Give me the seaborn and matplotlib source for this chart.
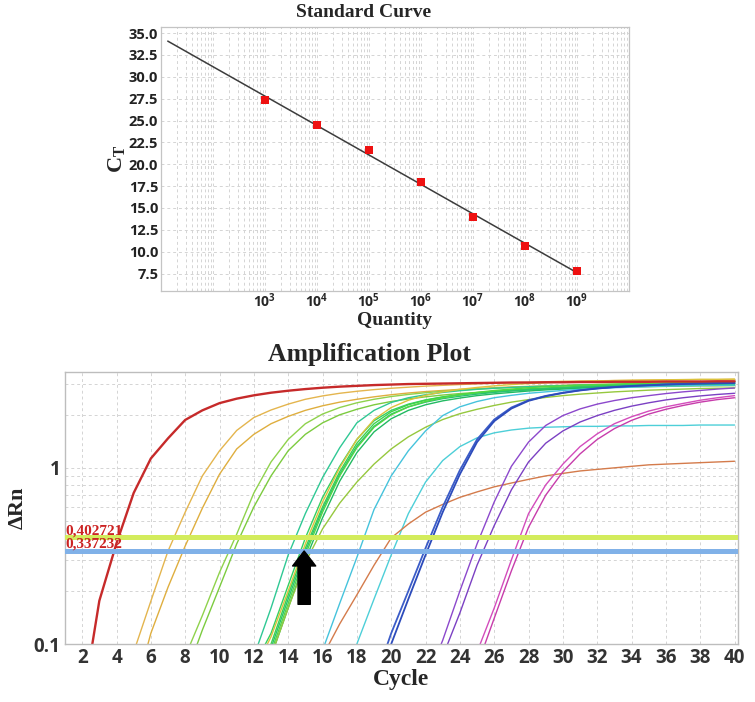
import numpy as np
import pandas as pd
import matplotlib
matplotlib.use('Agg')
import matplotlib.pyplot as plt
import seaborn as sns
from matplotlib.ticker import LogLocator, NullFormatter, FixedLocator

# standard curve
quantity = [1e3, 1e4, 1e5, 1e6, 1e7, 1e8, 1e9]
ct_values = [27.4, 24.5, 21.6, 17.95, 14.0, 10.65, 7.75]
fit_range = [10 ** 1.13, 1e9]
ct_ticks = [7.5, 10.0, 12.5, 15.0, 17.5, 20.0, 22.5, 25.0, 27.5, 30.0, 32.5, 35.0]

# thresholds and marker arrow
threshold_hi = 0.402721
threshold_lo = 0.337232
arrow_cycle = 14.93
cycle_ticks = list(range(2, 41, 2))

# amplification curves: first cycle listed, then delta Rn per cycle up to 40
red_start = 2
red_drn = [0.044, 0.176, 0.373, 0.72, 1.13, 1.47, 1.87, 2.12, 2.33, 2.47, 2.58, 2.67, 2.74, 2.80,
           2.85, 2.89, 2.92, 2.95, 2.97, 2.99, 3.00, 3.01, 3.02, 3.03, 3.04, 3.05, 3.05, 3.06, 3.06,
           3.07, 3.07, 3.08, 3.08, 3.08, 3.09, 3.09, 3.09, 3.10, 3.10]
orange_a_start = 4
orange_a_drn = [0.05, 0.09, 0.175, 0.337, 0.56, 0.9, 1.25, 1.63, 1.93, 2.13, 2.3, 2.45, 2.56, 2.65,
                2.72, 2.78, 2.83, 2.87, 2.91, 2.94, 2.97, 3.0, 3.02, 3.04, 3.06, 3.08, 3.1, 3.11,
                3.12, 3.13, 3.14, 3.15, 3.16, 3.16, 3.17, 3.17, 3.18]
orange_b_start = 5
orange_b_drn = [0.05, 0.115, 0.21, 0.36, 0.59, 0.92, 1.28, 1.55, 1.78, 1.96, 2.12, 2.25, 2.36, 2.45,
                2.53, 2.6, 2.66, 2.71, 2.75, 2.79, 2.82, 2.85, 2.88, 2.9, 2.92, 2.94, 2.96, 2.97,
                2.98, 2.99, 3.0, 3.01, 3.02, 3.03, 3.03, 3.04]
green1_start = 7
green1_drn = [0.05, 0.085, 0.145, 0.255, 0.42, 0.72, 1.08, 1.45, 1.78, 2.02, 2.2, 2.34, 2.45, 2.54,
              2.61, 2.67, 2.72, 2.76, 2.8, 2.83, 2.86, 2.88, 2.9, 2.92, 2.94, 2.95, 2.96, 2.97,
              2.98, 2.99, 3.0, 3.0, 3.01, 3.01]
green2_start = 7
green2_drn = [0.04, 0.065, 0.12, 0.21, 0.37, 0.6, 0.9, 1.25, 1.55, 1.8, 2.0, 2.15, 2.28, 2.38,
              2.46, 2.53, 2.59, 2.64, 2.68, 2.72, 2.75, 2.78, 2.8, 2.82, 2.84, 2.86, 2.87, 2.88,
              2.89, 2.9, 2.91, 2.92, 2.92, 2.93]
teal_start = 11
teal_drn = [0.045, 0.085, 0.16, 0.32, 0.55, 0.88, 1.3, 1.8, 2.12, 2.35, 2.5, 2.6, 2.68, 2.74,
            2.79, 2.83, 2.86, 2.89, 2.91, 2.93, 2.95, 2.96, 2.97, 2.98, 2.99, 3.0, 3.0, 3.01,
            3.01, 3.02]
g1_start = 12
g1_drn = [0.075, 0.115, 0.215, 0.4, 0.68, 1.02, 1.45, 1.85, 2.12, 2.3, 2.43, 2.53, 2.6, 2.66,
          2.71, 2.75, 2.79, 2.82, 2.85, 2.87, 2.89, 2.91, 2.93, 2.94, 2.95, 2.96, 2.97, 2.98, 2.99]
g2_start = 12
g2_drn = [0.07, 0.11, 0.2, 0.37, 0.64, 1.0, 1.45, 1.88, 2.2, 2.42, 2.58, 2.7, 2.79, 2.86,
          2.92, 2.97, 3.01, 3.04, 3.07, 3.09, 3.11, 3.13, 3.14, 3.15, 3.16, 3.17, 3.18, 3.18, 3.19]
g3_start = 12
g3_drn = [0.06, 0.1, 0.19, 0.35, 0.6, 0.95, 1.38, 1.78, 2.08, 2.28, 2.42, 2.52, 2.6, 2.67,
          2.72, 2.77, 2.81, 2.84, 2.87, 2.9, 2.92, 2.94, 2.95, 2.97, 2.98, 2.99, 3.0, 3.01, 3.02]
g4_start = 12
g4_drn = [0.055, 0.095, 0.18, 0.335, 0.58, 0.92, 1.33, 1.72, 2.02, 2.22, 2.36, 2.47, 2.55, 2.62,
          2.68, 2.73, 2.77, 2.81, 2.84, 2.87, 2.89, 2.91, 2.93, 2.94, 2.95, 2.96, 2.97, 2.98, 2.99]
g5_start = 12
g5_drn = [0.05, 0.09, 0.17, 0.32, 0.56, 0.9, 1.3, 1.7, 2.0, 2.22, 2.38, 2.5, 2.6, 2.68,
          2.75, 2.8, 2.85, 2.89, 2.92, 2.95, 2.97, 2.99, 3.01, 3.02, 3.04, 3.05, 3.06, 3.07, 3.08]
g6_start = 12
g6_drn = [0.045, 0.085, 0.16, 0.3, 0.52, 0.84, 1.22, 1.6, 1.9, 2.12, 2.28, 2.4, 2.49, 2.57,
          2.63, 2.68, 2.73, 2.77, 2.8, 2.83, 2.86, 2.88, 2.9, 2.92, 2.93, 2.94, 2.95, 2.96, 2.97]
olive_start = 12
olive_drn = [0.045, 0.085, 0.16, 0.29, 0.45, 0.63, 0.83, 1.05, 1.28, 1.5, 1.7, 1.88, 2.03, 2.15,
             2.26, 2.36, 2.44, 2.51, 2.57, 2.62, 2.66, 2.7, 2.73, 2.76, 2.78, 2.8, 2.82, 2.83, 2.84]
cyan_a_start = 15
cyan_a_drn = [0.05, 0.092, 0.17, 0.31, 0.58, 0.9, 1.25, 1.62, 1.98, 2.22, 2.38, 2.5, 2.58, 2.65,
              2.7, 2.75, 2.79, 2.82, 2.85, 2.87, 2.89, 2.91, 2.92, 2.93, 2.94, 2.95]
cyan_b_start = 17
cyan_b_drn = [0.055, 0.1, 0.18, 0.32, 0.55, 0.83, 1.1, 1.32, 1.48, 1.58, 1.64, 1.68, 1.7, 1.71,
              1.72, 1.72, 1.73, 1.73, 1.74, 1.74, 1.74, 1.75, 1.75, 1.75]
brown_start = 15
brown_drn = [0.055, 0.085, 0.13, 0.19, 0.28, 0.4, 0.48, 0.56, 0.62, 0.68, 0.73, 0.78, 0.82, 0.86,
             0.9, 0.93, 0.96, 0.98, 1.0, 1.02, 1.04, 1.05, 1.06, 1.07, 1.08, 1.09]
blue_a_start = 19
blue_a_drn = [0.06, 0.115, 0.2, 0.35, 0.6, 0.97, 1.45, 1.88, 2.2, 2.42, 2.56, 2.67, 2.76, 2.83,
              2.88, 2.92, 2.95, 2.98, 3.0, 3.02, 3.03, 3.04]
blue_b_start = 19
blue_b_drn = [0.055, 0.1, 0.18, 0.32, 0.56, 0.92, 1.4, 1.84, 2.17, 2.4, 2.55, 2.66, 2.75, 2.82,
              2.87, 2.91, 2.94, 2.97, 2.99, 3.01, 3.02, 3.03]
purple_a_start = 22
purple_a_drn = [0.06, 0.105, 0.2, 0.37, 0.64, 1.02, 1.4, 1.74, 1.98, 2.16, 2.3, 2.41, 2.5, 2.57,
                2.64, 2.7, 2.75, 2.8, 2.84]
purple_b_start = 22
purple_b_drn = [0.045, 0.085, 0.15, 0.28, 0.47, 0.75, 1.08, 1.38, 1.62, 1.82, 1.98, 2.12, 2.24,
                2.34, 2.43, 2.5, 2.56, 2.61, 2.65]
magenta_a_start = 24
magenta_a_drn = [0.05, 0.09, 0.16, 0.3, 0.55, 0.8, 1.05, 1.32, 1.56, 1.78, 1.95, 2.1, 2.22, 2.32,
                 2.42, 2.5, 2.57]
magenta_b_start = 24
magenta_b_drn = [0.04, 0.075, 0.14, 0.26, 0.46, 0.7, 0.95, 1.2, 1.45, 1.67, 1.86, 2.02, 2.15,
                 2.26, 2.36, 2.44, 2.5]

curves = [
    ('orange_a', orange_a_start, orange_a_drn, '#e4b54e', 1.0),
    ('orange_b', orange_b_start, orange_b_drn, '#dfae3e', 1.0),
    ('green1', green1_start, green1_drn, '#8fd24c', 1.0),
    ('green2', green2_start, green2_drn, '#7ccb3f', 1.0),
    ('teal', teal_start, teal_drn, '#2fc894', 1.0),
    ('g1', g1_start, g1_drn, '#33d062', 1.0),
    ('g2', g2_start, g2_drn, '#dcc23c', 1.0),
    ('g3', g3_start, g3_drn, '#3ed24a', 1.0),
    ('g4', g4_start, g4_drn, '#29c171', 1.0),
    ('g5', g5_start, g5_drn, '#52d742', 1.0),
    ('g6', g6_start, g6_drn, '#22ba62', 1.0),
    ('olive', olive_start, olive_drn, '#96c83e', 1.0),
    ('cyan_a', cyan_a_start, cyan_a_drn, '#45c3dc', 1.0),
    ('cyan_b', cyan_b_start, cyan_b_drn, '#4dcfd8', 1.0),
    ('brown', brown_start, brown_drn, '#d47b4b', 1.0),
    ('blue_a', blue_a_start, blue_a_drn, '#3b5cc8', 1.3),
    ('blue_b', blue_b_start, blue_b_drn, '#2c4bbb', 1.3),
    ('purple_a', purple_a_start, purple_a_drn, '#8c48cc', 1.0),
    ('purple_b', purple_b_start, purple_b_drn, '#7b40c3', 1.0),
    ('magenta_a', magenta_a_start, magenta_a_drn, '#d34cbc', 1.0),
    ('magenta_b', magenta_b_start, magenta_b_drn, '#c73cab', 1.0),
    ('red', red_start, red_drn, '#c62a2a', 1.7),
]

sns.set_style('white')
plt.rcParams['font.family'] = ['Open Sans', 'DejaVu Sans']
plt.rcParams['mathtext.fontset'] = 'custom'
plt.rcParams['mathtext.rm'] = 'Liberation Serif:bold'
plt.rcParams['mathtext.bf'] = 'Open Sans:bold'

serif = ['Liberation Serif', 'DejaVu Serif']
grid_kw = dict(color='#d4d4d4', linestyle=(0, (3, 3)), linewidth=0.7)

fig = plt.figure(figsize=(7.55, 7.02), dpi=100)

# ---- standard curve ----
ax1 = fig.add_axes([161 / 755, 1 - 291 / 702, 468 / 755, 264 / 702])
logq = np.log10(quantity)
slope, intercept = np.polyfit(logq, ct_values, 1)
fit_q = np.array(fit_range)
fit_ct = intercept + slope * np.log10(fit_q)
sns.lineplot(x=fit_q, y=fit_ct, color='#3c3c3c', linewidth=1.1, ax=ax1)
sns.scatterplot(x=quantity, y=ct_values, marker='s', s=30, color='#ee1111',
                linewidth=0, ax=ax1, zorder=5)
ax1.set_xscale('log')
ax1.set_xlim(10, 1e10)
ax1.set_ylim(5.5, 35.7)
ax1.set_xticks(quantity)
ax1.set_xticklabels([r'$\mathbf{10^{%d}}$' % e for e in logq.astype(int)], fontsize=10)
ax1.xaxis.set_minor_locator(LogLocator(base=10, subs=np.arange(1, 10), numticks=30))
ax1.xaxis.set_minor_formatter(NullFormatter())
ax1.yaxis.set_major_locator(FixedLocator(ct_ticks))
ax1.set_yticklabels(['%.1f' % t for t in ct_ticks], fontsize=10.5, fontweight='bold', color='#222222')
ax1.grid(True, which='both', axis='x', **grid_kw)
ax1.grid(True, which='major', axis='y', **grid_kw)
ax1.tick_params(which='both', length=0)
ax1.tick_params(axis='y', pad=2)
ax1.tick_params(axis='x', pad=1)
for sp in ax1.spines.values():
    sp.set_color('#c4c4c4')
    sp.set_linewidth(0.9)
ax1.set_xlabel('Quantity', fontfamily=serif, fontweight='bold', fontsize=14)
ax1.xaxis.set_label_coords(0.5, -0.078)
ax1.xaxis.label.set_va('top')
ax1.set_ylabel(r'$\mathrm{C}_{\mathrm{T}}$', fontsize=16)
ax1.yaxis.set_label_coords(-0.07, 0.5)
fig.text(364 / 755, 1 - 17 / 702, 'Standard Curve', ha='center', va='baseline',
         fontfamily=serif, fontweight='bold', fontsize=14)

# ---- amplification plot ----
ax2 = fig.add_axes([65 / 755, 1 - 644 / 702, 673 / 755, 272 / 702])
for name, start, vals, col, lw in curves:
    cyc = np.arange(start, start + len(vals))
    sns.lineplot(x=cyc, y=vals, color=col, linewidth=lw, ax=ax2)
ax2.set_yscale('log')
ax2.set_xlim(1, 40.2)
ax2.set_ylim(0.1, 3.5)
ax2.set_xticks(cycle_ticks)
ax2.set_xticklabels([str(c) for c in cycle_ticks], fontsize=13.5, fontweight='bold', color='#333333')
ax2.set_yticks([0.1, 1])
ax2.set_yticklabels(['0.1', '1'], fontsize=13.5, fontweight='bold', color='#333333')
ax2.yaxis.set_minor_locator(LogLocator(base=10, subs=np.arange(2, 10), numticks=20))
ax2.yaxis.set_minor_formatter(NullFormatter())
ax2.grid(True, which='major', axis='x', **grid_kw)
ax2.grid(True, which='both', axis='y', **grid_kw)
ax2.tick_params(which='minor', length=0)
ax2.tick_params(axis='x', length=0, pad=3)
ax2.tick_params(axis='y', which='major', length=2.5, color='#999999', pad=1)
for sp in ax2.spines.values():
    sp.set_color('#bdbdbd')
    sp.set_linewidth(1.0)

ax2.axhline(threshold_hi, color='#d3ec5c', linewidth=3.6, zorder=4)
ax2.axhline(threshold_lo, color='#80b1e8', linewidth=3.6, zorder=4)
ax2.text(1.05, threshold_hi * 1.035, '0,402721', color='#cc2323', fontfamily=serif,
         fontweight='bold', fontsize=11, ha='left', va='baseline', zorder=6)
ax2.text(1.05, threshold_lo * 1.04, '0,337232', color='#cc2323', fontfamily=serif,
         fontweight='bold', fontsize=11, ha='left', va='baseline', zorder=6)
ax2.annotate('', xy=(arrow_cycle, threshold_lo), xytext=(arrow_cycle, 0.168),
             arrowprops=dict(arrowstyle='simple,head_length=0.77,head_width=1.19,tail_width=0.63',
                             mutation_scale=14, color='black', shrinkA=0, shrinkB=0), zorder=7)

ax2.set_xlabel('Cycle', fontfamily=serif, fontweight='bold', fontsize=17)
ax2.xaxis.set_label_coords(0.5, -0.092)
ax2.xaxis.label.set_va('top')
ax2.set_ylabel('ΔRn', fontfamily=serif, fontweight='bold', fontsize=16)
ax2.yaxis.set_label_coords(-0.055, 0.5)
fig.text(369 / 755, 1 - 361 / 702, 'Amplification Plot', ha='center', va='baseline',
         fontfamily=serif, fontweight='bold', fontsize=18.5)

plt.savefig('out.png', dpi=100)
plt.close()
